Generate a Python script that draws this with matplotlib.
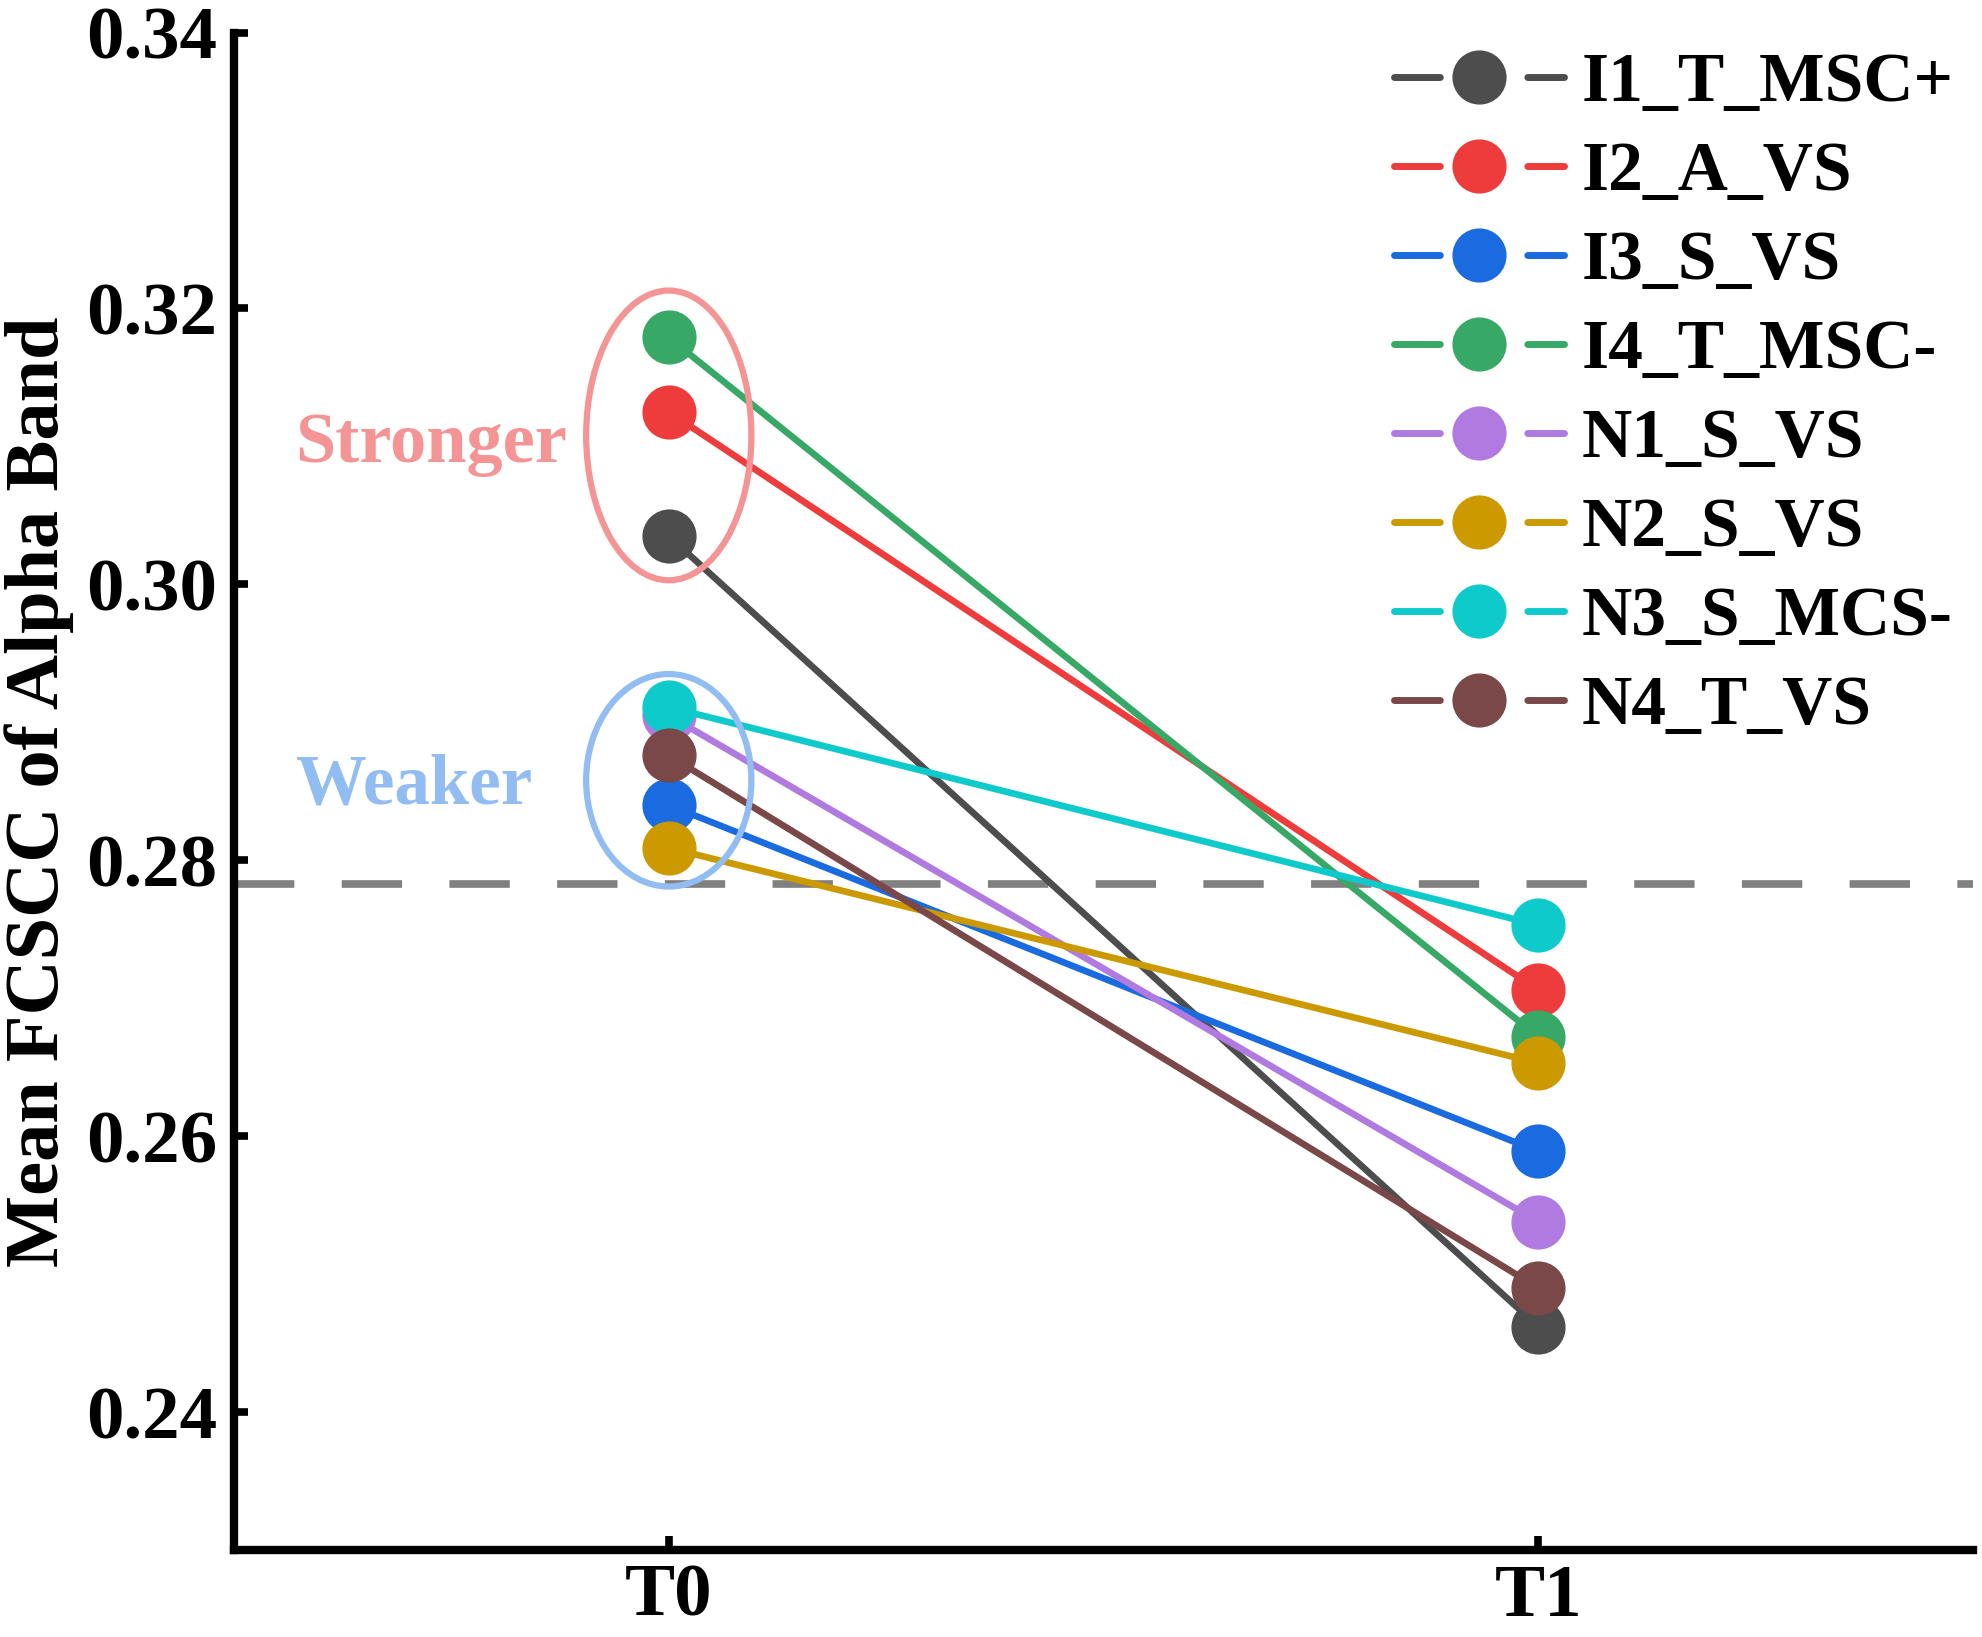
import matplotlib
matplotlib.use("Agg")
import matplotlib.pyplot as plt
from matplotlib.lines import Line2D
from matplotlib.patches import Ellipse

plt.rcParams['font.family'] = ['Liberation Serif', 'DejaVu Serif']
plt.rcParams['font.weight'] = 'bold'

# data
timepoints = ['T0', 'T1']
names = ['I1_T_MSC+', 'I2_A_VS', 'I3_S_VS', 'I4_T_MSC-',
         'N1_S_VS', 'N2_S_VS', 'N3_S_MCS-', 'N4_T_VS']
t0_vals = [0.3035, 0.3125, 0.2840, 0.3179, 0.2905, 0.2809, 0.2911, 0.2876]
t1_vals = [0.2462, 0.2706, 0.2589, 0.2672, 0.2538, 0.2653, 0.2753, 0.2490]
colors = ['#4D4D4D', '#EE3B3B', '#1A6AE0', '#38A866',
          '#B07AE0', '#CC9A00', '#0FCACA', '#7A4848']
threshold = 0.2783
yticks = [0.24, 0.26, 0.28, 0.30, 0.32, 0.34]

fig = plt.figure(figsize=(19.83, 16.37), dpi=100)
ax = fig.add_axes([0.118, 0.0531, 0.877, 0.927])

xs = list(range(len(timepoints)))
for i in range(len(names)):
    ax.plot(xs, [t0_vals[i], t1_vals[i]], '-', color=colors[i], lw=4.8,
            marker='o', ms=38, mec=colors[i], zorder=3 + i * 0.1)

ax.axhline(threshold, color='#808080', lw=5.5, ls=(0, (7.9, 6.2)), zorder=1)

# highlight groups
ax.add_patch(Ellipse((0, 0.3108), 0.19, 0.0210, fill=False,
                     ec='#F49494', lw=4.5, zorder=5))
ax.add_patch(Ellipse((0, 0.2858), 0.19, 0.0154, fill=False,
                     ec='#92BDF2', lw=4.5, zorder=5))
ax.text(-0.2735, 0.3089, 'Stronger', color='#F49494', fontsize=52,
        fontweight='bold', ha='center', va='baseline')
ax.text(-0.293, 0.2841, 'Weaker', color='#92BDF2', fontsize=51,
        fontweight='bold', ha='center', va='baseline')

ax.set_xlim(-0.5, 1.5)
ax.set_ylim(0.23, 0.34)
ax.set_xticks(xs)
ax.set_xticklabels(timepoints)
ax.set_yticks(yticks)
ax.set_yticklabels(['%.2f' % v for v in yticks])
ax.tick_params(axis='both', direction='in', length=10, width=5.5,
               labelsize=54)
ax.tick_params(axis='x', pad=10)
ax.tick_params(axis='y', pad=12)
for s in ['top', 'right']:
    ax.spines[s].set_visible(False)
for s in ['left', 'bottom']:
    ax.spines[s].set_linewidth(6)

ax.set_ylabel('Mean FCSCC of Alpha Band', fontsize=55, fontweight='bold')
ax.yaxis.set_label_coords(-0.092, 0.5)

handles = [Line2D([], [], color=c, lw=5, ls=(0, (6.6, 12.6)),
                  dash_capstyle='round', marker='o', ms=38, mec=c)
           for c in colors]
fig.legend(handles, names, loc='upper left', bbox_to_anchor=(0.703, 0.968),
           frameon=False, fontsize=50, handlelength=2.45,
           handletextpad=0.25, labelspacing=0.36, borderpad=0,
           borderaxespad=0)

fig.savefig('out.png', dpi=100)
